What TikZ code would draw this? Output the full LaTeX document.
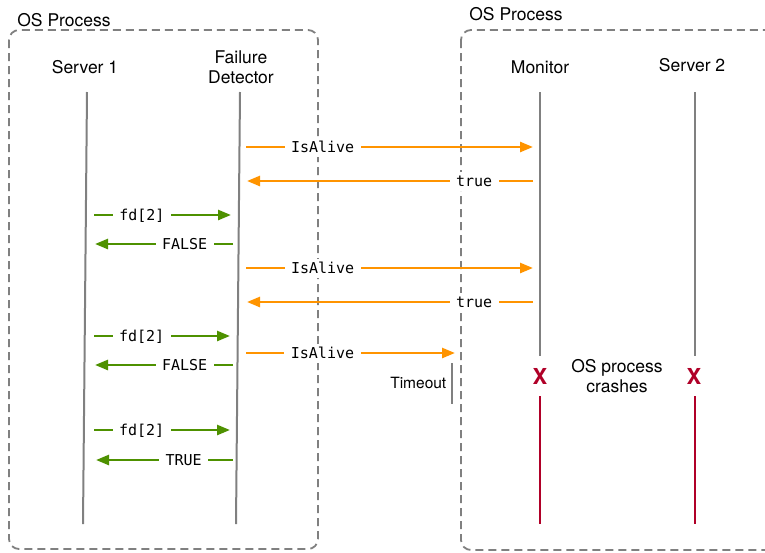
\documentclass[tikz,border=0pt]{standalone}
\usepackage{fontspec}
\setmainfont{TeX Gyre Heros}
\setmonofont{DejaVu Sans Mono}
\usetikzlibrary{arrows.meta}
\definecolor{orng}{RGB}{255,148,0}
\definecolor{grn}{RGB}{78,145,0}
\definecolor{crim}{RGB}{176,0,40}
\definecolor{lgray}{RGB}{128,128,128}
\begin{document}
\begin{tikzpicture}[x=1pt,y=-1pt,
  procbox/.style={draw=lgray, line width=1.8pt, dash pattern=on 8pt off 5pt, rounded corners=10pt},
  title/.style={inner sep=0pt, font=\fontsize{17.5}{20}\selectfont},
  actor/.style={inner sep=0pt, align=center, font=\fontsize{17.5}{20}\selectfont},
  lifeline/.style={draw=lgray, line width=2pt},
  deadline/.style={draw=crim, line width=2pt},
  omsg/.style={draw=orng, line width=2.5pt, -{Triangle[length=13pt,width=10pt]}},
  gmsg/.style={draw=grn, line width=2.5pt, -{Triangle[length=13pt,width=10pt]}},
  lbl/.style={fill=white, inner xsep=6.5pt, inner ysep=4pt, text height=11pt, text depth=0pt,
              font=\ttfamily\fontsize{15}{18}\selectfont, text=black},
  xmark/.style={inner sep=0pt, text=crim, font=\bfseries\fontsize{22}{24}\selectfont},
  small/.style={inner sep=0pt, font=\fontsize{15.5}{18}\selectfont}
]
\useasboundingbox (0,0) rectangle (765,552);
\begin{scope}
\clip (0,0) rectangle (765,552);
% process boxes
\draw[procbox] (9,30) rectangle (318,549);
\draw[procbox] (461,30) rectangle (790,550);
\end{scope}

\node[title] (os1) at (64,20) {OS Process};
\node[title] (os2) at (516,14) {OS Process};

% actors
\node[actor] (s1) at (85,67) {Server 1};
\node[actor] (fd) at (241,67) {Failure\\Detector};
\node[actor] (mon) at (540,67) {Monitor};
\node[actor] (s2) at (692,65) {Server 2};

% lifeline coordinates
\coordinate (s1t) at (87,92);  \coordinate (s1b) at (83,524);
\coordinate (fdt) at (240,92); \coordinate (fdb) at (236,524);
\coordinate (mont) at (540,92); \coordinate (monm) at (540,356);
\coordinate (monr) at (540,396); \coordinate (monb) at (540,524);
\coordinate (s2t) at (695,92); \coordinate (s2m) at (695,356);
\coordinate (s2r) at (695,396); \coordinate (s2b) at (695,524);

\draw[lifeline] (s1t) -- (s1b);
\draw[lifeline] (fdt) -- (fdb);
\draw[lifeline] (mont) -- (monm);
\draw[lifeline] (s2t) -- (s2m);
\draw[deadline] (monr) -- (monb);
\draw[deadline] (s2r) -- (s2b);

\node[xmark] (x1) at (540,376) {X};
\node[xmark] (x2) at (694,376) {X};
\node[actor] (crash) at (617,376) {OS process\\crashes};

% orange messages
\coordinate (fa1) at (246,147); \coordinate (ma1) at (533,147);
\coordinate (mb1) at (533,181); \coordinate (fb1) at (247,181);
\coordinate (fa2) at (246,268); \coordinate (ma2) at (533,268);
\coordinate (mb2) at (533,302); \coordinate (fb2) at (247,302);
\coordinate (fa3) at (246,353); \coordinate (ta3) at (455,353);

\draw[omsg] (fa1) -- node[lbl, pos=0.267] {IsAlive} (ma1);
\draw[omsg] (mb1) -- node[lbl, pos=0.206] {true} (fb1);
\draw[omsg] (fa2) -- node[lbl, pos=0.267] {IsAlive} (ma2);
\draw[omsg] (mb2) -- node[lbl, pos=0.206] {true} (fb2);
\draw[omsg] (fa3) -- node[lbl, pos=0.366] {IsAlive} (ta3);

% timeout
\coordinate (tot) at (452,363); \coordinate (tob) at (452,404);
\draw[lifeline] (tot) -- (tob);
\node[small, anchor=east] (to) at (446.5,383) {Timeout};

% green messages
\coordinate (ga1) at (94,215); \coordinate (gb1) at (231,215);
\coordinate (gc1) at (233,244); \coordinate (gd1) at (95,244);
\coordinate (ga2) at (94,336); \coordinate (gb2) at (230,336);
\coordinate (gc2) at (233,365); \coordinate (gd2) at (95,365);
\coordinate (ga3) at (94,430); \coordinate (gb3) at (230,430);
\coordinate (gc3) at (233,460); \coordinate (gd3) at (96,460);

\draw[gmsg] (ga1) -- node[lbl, pos=0.35] {fd[2]} (gb1);
\draw[gmsg] (gc1) -- node[lbl, pos=0.35] {FALSE} (gd1);
\draw[gmsg] (ga2) -- node[lbl, pos=0.35] {fd[2]} (gb2);
\draw[gmsg] (gc2) -- node[lbl, pos=0.35] {FALSE} (gd2);
\draw[gmsg] (ga3) -- node[lbl, pos=0.35] {fd[2]} (gb3);
\draw[gmsg] (gc3) -- node[lbl, pos=0.36] {TRUE} (gd3);
\end{tikzpicture}
\end{document}
